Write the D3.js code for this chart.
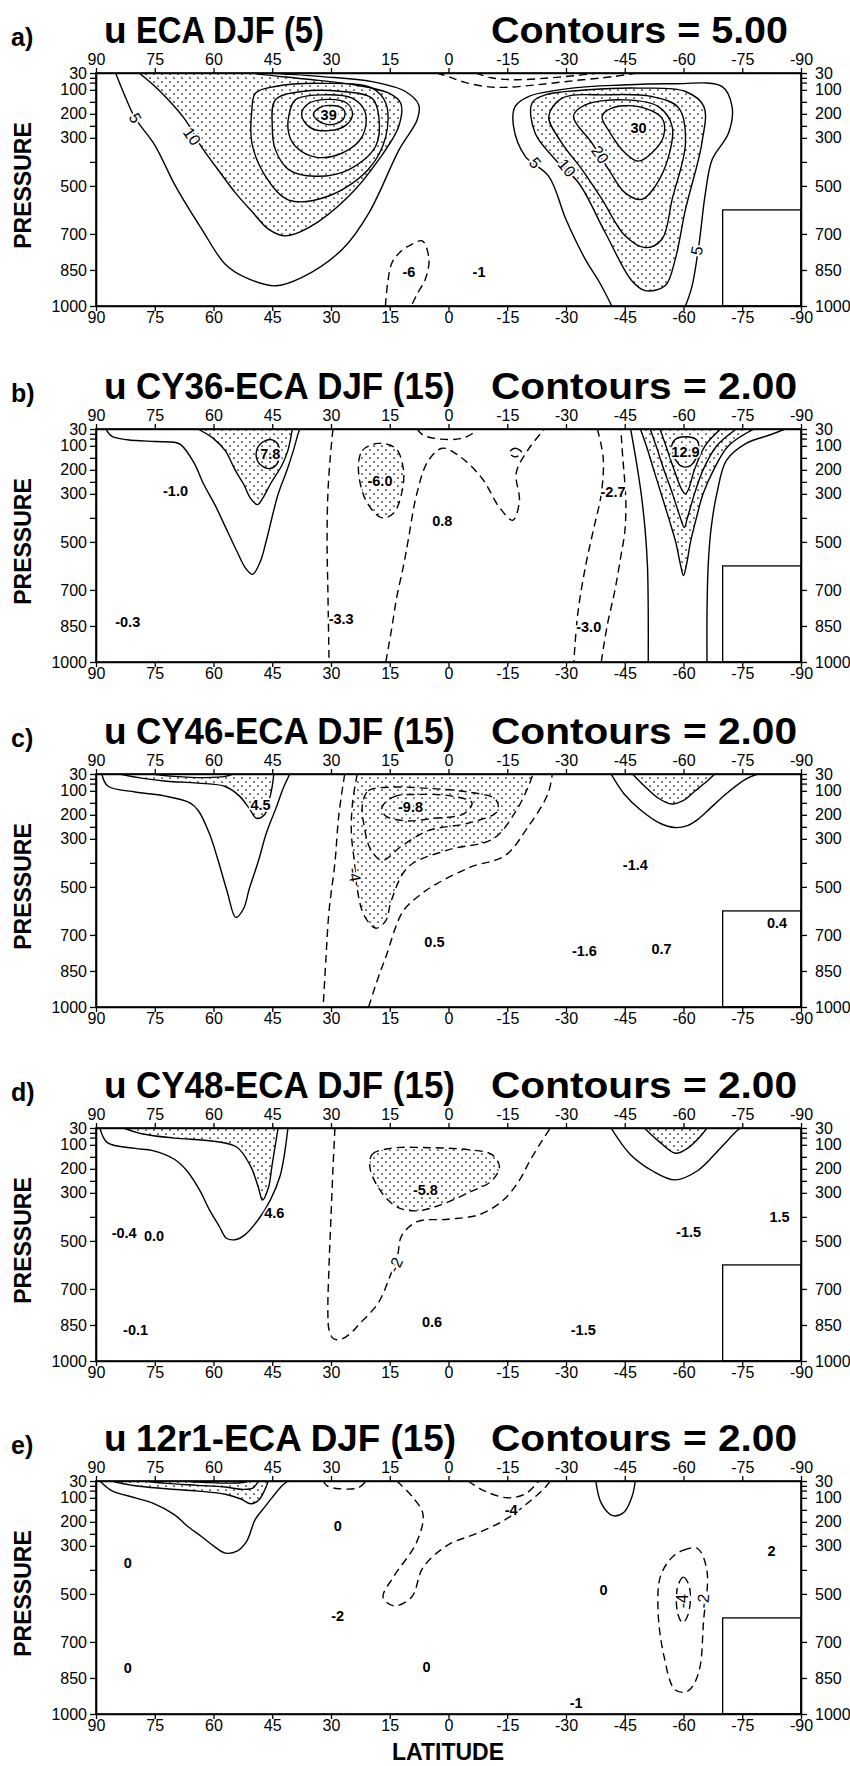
<!DOCTYPE html>
<html>
<head>
<meta charset="utf-8">
<script src="https://cdn.jsdelivr.net/npm/d3@7"></script>
<style>
  body { margin: 0; background: #fff; }
  svg text { font-family: "Liberation Sans", Arial, Helvetica, sans-serif; }
</style>
</head>
<body>
<svg id="chart" width="850" height="1766"></svg>
<script>
// ---- data ----
const latTicks = [90, 75, 60, 45, 30, 15, 0, -15, -30, -45, -60, -75, -90]
const presLevels = [30, 50, 70, 100, 150, 200, 250, 300, 400, 500, 700, 850, 1000]
const presLabels = [30, 100, 200, 300, 500, 700, 850, 1000]
const maskLat = [-70, -90]
const maskPres = [600, 1000]

const panelLetters = ['a)', 'b)', 'c)', 'd)', 'e)']
const panelTitles = ['ECA DJF (5)', 'CY36-ECA DJF (15)', 'CY46-ECA DJF (15)', 'CY48-ECA DJF (15)', '12r1-ECA DJF (15)']
const contourSteps = ['5.00', '2.00', '2.00', '2.00', '2.00']

// contours: v = contour value (negative dashed), pts = [latitude, pressure], stip = significant (stippled)
const contoursA = [
  { v: 5, pts: [[85, 30], [82.5, 130], [80, 218], [75, 330], [69.7, 501], [63, 680], [57, 826], [51.9, 881], [44.2, 916], [37.4, 881], [27.1, 764], [20.3, 612], [12.6, 349], [8, 225], [7.6, 163], [11, 107], [19.5, 66], [32.3, 45], [42, 34], [46, 30]] },
  { v: 10, stip: true, pts: [[79, 30], [75, 85], [71.5, 142], [67.2, 225], [62.9, 342], [58.5, 440], [54.4, 529], [50, 610], [45.9, 681], [41.6, 708], [35.7, 674], [25.4, 542], [17.8, 391], [12.7, 252], [12.2, 156], [15.2, 114], [23.7, 80], [36.5, 55], [46.7, 38], [50, 30]] },
  { v: 15, pts: [[50.2, 183], [49.3, 114], [44.2, 86], [32.3, 73], [19.5, 93], [16, 156], [16, 294], [20.5, 432], [30.6, 542], [40.8, 559], [46.7, 460], [50.2, 321]] },
  { v: 20, pts: [[45, 252], [44.2, 142], [37.4, 107], [27.1, 107], [19.5, 135], [17.8, 211], [18.6, 335], [25.4, 432], [34, 460], [40.8, 432], [44.2, 349]] },
  { v: 25, pts: [[40.8, 211], [39.1, 142], [32.3, 121], [24.6, 135], [21.2, 197], [22, 294], [27.1, 363], [34, 380], [39.1, 335], [40.8, 280]] },
  { v: 30, pts: [[37.5, 204], [36, 160], [31, 140], [26, 155], [24.5, 200], [26, 245], [30.5, 270], [35.5, 255]] },
  { v: 35, pts: [[34.5, 204], [33, 175], [30, 165], [27, 178], [26.5, 210], [28.5, 240], [32, 240]] },
  { v: 5, pts: [[-41.7, 1000], [-38.5, 900], [-34.9, 805], [-30, 640], [-25.6, 460], [-19.6, 377], [-16.6, 252], [-17, 170], [-20.4, 128], [-31.5, 93], [-44.3, 80], [-57.1, 75], [-69.8, 86], [-72.4, 170], [-71.5, 280], [-67.3, 391], [-65.6, 529], [-63.9, 750], [-62.2, 916], [-60.5, 1000]] },
  { v: 10, stip: true, pts: [[-21.3, 156], [-24.7, 121], [-35.8, 100], [-48.5, 93], [-60.5, 107], [-65.2, 170], [-64.7, 321], [-60.5, 598], [-57.9, 805], [-55.3, 916], [-50.2, 936], [-46.8, 895], [-40, 694], [-33.2, 487], [-27.3, 391], [-22.1, 280]] },
  { v: 15, pts: [[-25.6, 211], [-29, 135], [-40, 121], [-51.9, 128], [-58.8, 176], [-60.5, 321], [-57.1, 556], [-54.5, 722], [-50.2, 757], [-45.1, 708], [-39.2, 556], [-34.1, 432], [-28.9, 321]] },
  { v: 20, pts: [[-31.9, 211], [-34.9, 163], [-45.1, 142], [-53.6, 170], [-57.1, 252], [-56.2, 377], [-52.8, 501], [-49.4, 556], [-45.1, 529], [-40.9, 432], [-36.6, 321]] },
  { v: 25, pts: [[-39.2, 211], [-41.7, 176], [-48.5, 170], [-54.5, 218], [-54.9, 294], [-51.9, 363], [-48.5, 397], [-45.1, 363], [-41.3, 280]] },
  { v: -5, pts: [[3, 30], [0, 45], [-4, 68], [-9, 85], [-14, 90], [-22, 80], [-32, 62], [-42, 45], [-48, 30]] },
  { v: -10, pts: [[-7, 30], [-11, 50], [-17, 58], [-26, 50], [-34, 38], [-38, 30]] },
  { v: -5, pts: [[16.1, 1000], [15.5, 900], [14.4, 819], [12, 770], [10.1, 750], [6.7, 729], [5, 805], [5.9, 888], [8, 950], [9.5, 1000]] }
]
const labelsA = [
  [80, 218, '5', 62], [65.5, 294, '10', 55], [-22.1, 404, '5', 50], [-30.2, 425, '10', 50],
  [-38.7, 370, '20', 55], [-63.4, 770, '5', -80],
  [30.6, 204, '39'], [-48.5, 259, '30'], [10.1, 860, '-6'], [-7.8, 860, '-1']
]

const contoursB = [
  { v: 0, pts: [[87.5, 30], [86, 60], [82, 75], [75, 82], [69.7, 86], [68.3, 96], [65, 170], [62.5, 260], [59.5, 350], [56.7, 447], [54, 540], [51.7, 612], [50, 635], [48, 580], [46.5, 494], [43.6, 307], [41.2, 200], [39.6, 119], [38.4, 50], [38, 30]] },
  { v: 2, stip: true, pts: [[64, 30], [60, 70], [57, 120], [54.5, 200], [52.3, 260], [50.5, 320], [48.8, 345], [47.5, 320], [45.5, 260], [42.5, 180], [41, 119], [40.2, 60], [39.9, 30]] },
  { v: 4, pts: [[49, 120], [47.5, 85], [45, 75], [43.5, 95], [43.2, 140], [44, 180], [46, 195], [48.5, 170]] },
  { v: 0, pts: [[-46.5, 30], [-47.8, 150], [-49.2, 300], [-50.2, 450], [-50.8, 600], [-51, 800], [-51, 1000]] },
  { v: 0, pts: [[-86, 30], [-82, 55], [-76, 90], [-71, 160], [-68.5, 300], [-67, 450], [-66.3, 600], [-66, 800], [-66, 1000]] },
  { v: 2, stip: true, pts: [[-49, 30], [-50.5, 100], [-52.4, 200], [-54.3, 300], [-56.2, 400], [-58, 500], [-59.3, 600], [-60, 640], [-60.7, 600], [-61.8, 500], [-63.3, 400], [-65, 300], [-67.7, 200], [-71.5, 100], [-78, 30]] },
  { v: 4, pts: [[-51.5, 30], [-53, 100], [-55, 200], [-57.2, 300], [-59.2, 400], [-60.2, 440], [-61, 400], [-62.8, 300], [-65, 200], [-68.5, 100], [-73.5, 30]] },
  { v: 6, pts: [[-54, 30], [-55.5, 100], [-57.6, 200], [-59.5, 280], [-60.5, 300], [-61.3, 280], [-62.8, 200], [-65.5, 100], [-69.5, 30]] },
  { v: 8, pts: [[-57, 120], [-57.8, 75], [-60.5, 62], [-63.5, 78], [-63.8, 120], [-62, 180], [-59.5, 185]] },
  { v: -2, pts: [[29.5, 30], [30.2, 150], [30.8, 300], [31, 500], [30.8, 700], [30.5, 1000]] },
  { v: -2, pts: [[16, 1000], [14.5, 860], [13.2, 729], [11.5, 600], [10.3, 494], [8.2, 307], [5.3, 166], [1.6, 110], [-2.8, 143], [-8.6, 236], [-12.9, 354], [-16.4, 410], [-18.1, 330], [-17.3, 213], [-20.2, 119], [-24.5, 30]] },
  { v: -4, stip: true, pts: [[23, 200], [22, 120], [18, 90], [13.5, 110], [11.5, 200], [12, 300], [14, 380], [17, 400], [21, 330]] },
  { v: -2, pts: [[8, 30], [6.5, 55], [2, 72], [-3, 70], [-6, 50], [-7, 30]] },
  { v: -2, pts: [[-15.5, 128], [-17, 110], [-18.7, 128], [-17, 146]] },
  { v: -2, pts: [[-38, 30], [-39.5, 150], [-39, 300], [-37, 450], [-35, 600], [-33, 800], [-32, 1000]] },
  { v: -2, pts: [[-39, 1000], [-40.5, 850], [-42.5, 700], [-44, 560], [-45, 460], [-45.3, 350], [-45, 250], [-44.5, 150], [-44, 30]] }
]
const labelsB = [
  [69.7, 288, '-1.0'], [81.9, 832, '-0.3'], [45.5, 135, '7.8'], [17.5, 246, '-6.0'], [1.6, 415, '0.8'],
  [27.4, 823, '-3.3'], [-42, 293, '-2.7'], [-35.8, 855, '-3.0'], [-60.5, 125, '12.9']
]

const contoursC = [
  { v: 0, pts: [[88.5, 30], [87, 80], [80, 105], [72.6, 121], [66, 150], [63.9, 182], [61, 280], [59, 380], [56.5, 520], [54.3, 627], [52.3, 590], [50.9, 510], [48.5, 390], [46.5, 276], [44, 170], [42.2, 89], [40.5, 30]] },
  { v: 2, stip: true, pts: [[84, 30], [78, 48], [72, 60], [64, 68], [57, 82], [53.5, 120], [51, 170], [49, 215], [47, 200], [45.8, 140], [45, 80], [44.6, 30]] },
  { v: 4, pts: [[76, 30], [70, 40], [62, 45], [57, 40], [55, 30]] },
  { v: -2, pts: [[26.5, 30], [28, 200], [29, 400], [30.5, 600], [31.3, 800], [32, 1000]] },
  { v: -2, pts: [[20.4, 1000], [18, 880], [16, 792], [11.7, 604], [7, 530], [3, 487], [-5.7, 417], [-14.4, 370], [-20.2, 253], [-25.4, 112], [-26.5, 30]] },
  { v: -4, stip: true, pts: [[23.3, 30], [24.5, 150], [24.8, 276], [24, 400], [23.3, 510], [21.5, 620], [18.5, 672], [16, 640], [14.6, 557], [10.3, 417], [0.1, 346], [-11.5, 299], [-17.3, 182], [-20.2, 89], [-21.6, 30]] },
  { v: -6, pts: [[22, 160], [20.5, 100], [15, 85], [5, 90], [-5, 105], [-12, 135], [-12.5, 185], [-5, 235], [5, 265], [12, 330], [17, 390], [20, 340], [21.5, 250]] },
  { v: -8, pts: [[17, 170], [14, 125], [7, 115], [-1, 122], [-6, 150], [-4, 195], [4, 215], [11, 225], [16, 205]] },
  { v: 0, pts: [[-41.5, 30], [-44.8, 112], [-49.2, 182], [-54, 235], [-57.8, 253], [-61, 245], [-63.6, 220], [-67, 170], [-70.9, 112], [-76, 50], [-79, 30]] },
  { v: 2, stip: true, pts: [[-47, 30], [-50, 80], [-53.5, 130], [-57, 155], [-60, 140], [-63, 100], [-66, 60], [-68, 30]] }
]
const labelsC = [
  [48, 160, '4.5'], [9.7, 168, '-9.8'], [24, 450, '-4', 80], [-47.7, 408, '-1.4'], [-83.9, 651, '0.4'],
  [3.6, 731, '0.5'], [-34.7, 768, '-1.6'], [-54.4, 759, '0.7']
]

const contoursD = [
  { v: 0, pts: [[89, 30], [87.1, 91], [80, 115], [75.5, 124], [70, 160], [66.8, 208], [63.5, 290], [61, 372], [58.5, 440], [56.7, 489], [54.5, 495], [52, 475], [48.5, 410], [45.5, 330], [43, 230], [41.8, 130], [41, 30]] },
  { v: 2, stip: true, pts: [[83, 30], [78, 55], [70, 72], [60, 85], [54, 110], [50.5, 190], [48.5, 280], [47.5, 330], [46, 280], [45, 180], [44, 80], [43.5, 30]] },
  { v: -2, pts: [[29, 30], [29.5, 200], [30, 400], [30.5, 600], [30.8, 800], [30.5, 870], [29.5, 905], [27.7, 911], [25, 885], [23, 850], [18, 760], [15, 650], [13, 560], [12, 480], [8, 420], [0, 410], [-8, 390], [-14, 330], [-18, 250], [-21, 160], [-24, 80], [-26, 30]] },
  { v: -4, stip: true, pts: [[20, 200], [19.5, 140], [15, 115], [5, 112], [-5, 120], [-11, 140], [-13, 190], [-11, 250], [-5, 300], [2, 350], [8, 375], [13, 360], [17, 300]] },
  { v: 0, pts: [[-41.5, 30], [-46.3, 138], [-52, 208], [-57.8, 246], [-63.6, 208], [-69.4, 114], [-73.5, 44], [-74.5, 30]] },
  { v: 2, stip: true, pts: [[-50, 30], [-54, 90], [-58, 135], [-61, 115], [-64, 70], [-66, 30]] }
]
const labelsD = [
  [82.8, 466, '-0.4'], [75.2, 480, '0.0'], [79.9, 873, '-0.1'], [44.5, 382, '4.6'], [5.9, 290, '-5.8'],
  [13.5, 600, '-2', -65], [4.2, 836, '0.6'], [-34.4, 869, '-1.5'], [-61.3, 461, '-1.5'], [-84.5, 400, '1.5']
]

const contoursE = [
  { v: 0, pts: [[89, 30], [86, 70], [80, 100], [75.5, 122], [70, 170], [66.8, 216], [63, 262], [60, 300], [57, 330], [54, 322], [51.5, 280], [49.4, 192], [47, 140], [45, 98], [42.5, 50], [41, 30]] },
  { v: 2, stip: true, pts: [[86, 30], [80, 50], [72, 62], [64, 72], [57, 85], [53, 105], [50.5, 125], [48.5, 110], [47, 70], [46, 30]] },
  { v: 4, pts: [[78, 30], [72, 40], [64, 48], [57, 55], [52.5, 65], [50, 60], [48.5, 30]] },
  { v: 6, pts: [[68, 30], [62, 36], [56, 39], [52, 35], [51, 30]] },
  { v: -2, pts: [[32, 30], [31, 50], [28, 62], [23, 58], [21, 30]] },
  { v: -2, pts: [[13.2, 30], [9, 100], [6.5, 169], [8.2, 287], [14, 428], [16.7, 513], [14, 550], [9.4, 513], [6.5, 390], [0.1, 296], [-7.1, 249], [-14.4, 192], [-20.2, 122], [-24.5, 60], [-26, 30]] },
  { v: -4, pts: [[-5, 30], [-9, 70], [-15, 100], [-19.5, 85], [-22, 50], [-23, 30]] },
  { v: -2, pts: [[-57, 349], [-60, 318], [-63.6, 311], [-66, 405], [-65.1, 617], [-64.2, 805], [-62.5, 880], [-60.7, 908], [-57.8, 899], [-55, 758], [-53.5, 570], [-54.1, 428]] },
  { v: -4, pts: [[-58.5, 470], [-60, 430], [-61.5, 470], [-61.3, 580], [-59.8, 620], [-58.5, 580]] },
  { v: 0, pts: [[-37.6, 30], [-39, 122], [-41.9, 174], [-44.8, 160], [-46.8, 98], [-47.7, 30]] }
]
const labelsE = [
  [81.9, 371, '0'], [81.9, 809, '0'], [28.3, 593, '-2'], [28.3, 216, '0'], [5.6, 805, '0'],
  [-32.6, 955, '-1'], [-39.6, 484, '0'], [-82.5, 320, '2'], [-16, 150, '-4'],
  [-59.8, 530, '-4', -90], [-65, 530, '-2', -85]
]

const panelContours = [contoursA, contoursB, contoursC, contoursD, contoursE]
const panelLabels = [labelsA, labelsB, labelsC, labelsD, labelsE]

// ---- layout ----
const panelTops = [73, 429, 774, 1128, 1481]
const plotH = 233
const plotLeft = 96
const plotRight = 801
const titleWidths = [188, 319, 319, 319, 320]
const stepWidths = [297, 306, 306, 306, 306]
const FONT = '"Liberation Sans", Arial, Helvetica, sans-serif'

const svg = d3.select('#chart')
svg.append('rect').attr('width', 850).attr('height', 1766).attr('fill', '#fff')

const defs = svg.append('defs')
const pat = defs.append('pattern')
  .attr('id', 'dots')
  .attr('width', 8)
  .attr('height', 8)
  .attr('patternUnits', 'userSpaceOnUse')
pat.append('circle').attr('cx', 2).attr('cy', 2).attr('r', 0.85).attr('fill', '#000')
pat.append('circle').attr('cx', 6).attr('cy', 6).attr('r', 0.85).attr('fill', '#000')

const x = d3.scaleLinear().domain([90, -90]).range([plotLeft, plotRight])

const onEdge = d => d[1] <= 30 || d[1] >= 1000

panelContours.forEach((contours, i) => {
  const top = panelTops[i]
  const y = d3.scaleLinear().domain([30, 1000]).range([top, top + plotH])
  const g = svg.append('g')

  defs.append('clipPath').attr('id', 'clip' + i)
    .append('rect')
    .attr('x', plotLeft).attr('y', top)
    .attr('width', plotRight - plotLeft).attr('height', plotH)

  const lineFor = c => {
    const closed = !onEdge(c.pts[0])
    return d3.line()
      .x(d => x(d[0]))
      .y(d => y(d[1]))
      .curve(closed ? d3.curveCatmullRomClosed.alpha(0.5) : d3.curveCatmullRom.alpha(0.5))(c.pts)
  }

  const plot = g.append('g').attr('clip-path', `url(#clip${i})`)

  // stippled (significant) areas
  plot.selectAll('path.stip')
    .data(contours.filter(c => c.stip))
    .join('path')
    .attr('class', 'stip')
    .attr('d', c => lineFor(c) + (onEdge(c.pts[0]) ? 'Z' : ''))
    .attr('fill', 'url(#dots)')
    .attr('stroke', 'none')

  // contour lines
  plot.selectAll('path.cont')
    .data(contours)
    .join('path')
    .attr('class', 'cont')
    .attr('d', lineFor)
    .attr('fill', 'none')
    .attr('stroke', '#000')
    .attr('stroke-width', 1.4)
    .attr('stroke-linejoin', 'round')
    .attr('stroke-dasharray', c => c.v < 0 ? '8,5' : null)

  // masked (below ground) box
  g.append('rect')
    .attr('x', x(maskLat[0]))
    .attr('y', y(maskPres[0]))
    .attr('width', x(maskLat[1]) - x(maskLat[0]))
    .attr('height', y(maskPres[1]) - y(maskPres[0]))
    .attr('fill', '#fff')
    .attr('stroke', '#000')
    .attr('stroke-width', 1.3)

  // labels
  g.selectAll('text.lab')
    .data(panelLabels[i])
    .join('text')
    .attr('class', 'lab')
    .attr('transform', d => `translate(${x(d[0])},${y(d[1])})` + (d[3] !== undefined ? ` rotate(${d[3]})` : ''))
    .attr('text-anchor', 'middle')
    .attr('dominant-baseline', 'central')
    .attr('font-size', d => d[3] !== undefined ? 16 : 14.5)
    .attr('font-weight', d => d[3] !== undefined ? 'normal' : 'bold')
    .attr('stroke', '#fff')
    .attr('stroke-width', 3.5)
    .attr('paint-order', 'stroke')
    .attr('fill', '#000')
    .text(d => d[2])

  // frame
  g.append('rect')
    .attr('x', plotLeft).attr('y', top)
    .attr('width', plotRight - plotLeft).attr('height', plotH)
    .attr('fill', 'none').attr('stroke', '#000').attr('stroke-width', 1.6)

  // axes
  const latFmt = d => String(d)
  const presFmt = d => presLabels.includes(d) ? String(d) : ''
  const styleAxis = a => {
    a.attr('font-family', FONT).attr('font-size', 16)
    a.select('.domain').attr('stroke-width', 1.6)
    a.selectAll('.tick line').attr('stroke-width', 1.3)
    a.selectAll('.tick text').attr('fill', '#000')
  }
  g.append('g').attr('transform', `translate(0,${top})`)
    .call(d3.axisTop(x).tickValues(latTicks).tickFormat(latFmt).tickSize(5).tickSizeOuter(0))
    .call(styleAxis)
  g.append('g').attr('transform', `translate(0,${top + plotH})`)
    .call(d3.axisBottom(x).tickValues(latTicks).tickFormat(latFmt).tickSize(5).tickPadding(1).tickSizeOuter(0))
    .call(styleAxis)
  g.append('g').attr('transform', `translate(${plotLeft},0)`)
    .call(d3.axisLeft(y).tickValues(presLevels).tickFormat(presFmt).tickSize(6).tickPadding(3).tickSizeOuter(0))
    .call(styleAxis)
  g.append('g').attr('transform', `translate(${plotRight},0)`)
    .call(d3.axisRight(y).tickValues(presLevels).tickFormat(presFmt).tickSize(6).tickPadding(8).tickSizeOuter(0))
    .call(styleAxis)

  // titles
  g.append('text')
    .attr('x', 11).attr('y', top - 27)
    .attr('font-size', 25).attr('font-weight', 'bold')
    .text(panelLetters[i])
  g.append('text')
    .attr('x', 104).attr('y', top - 30)
    .attr('font-size', 37).attr('font-weight', 'bold')
    .text('u')
  g.append('text')
    .attr('x', 136).attr('y', top - 30)
    .attr('font-size', 37).attr('font-weight', 'bold')
    .attr('textLength', titleWidths[i])
    .attr('lengthAdjust', 'spacingAndGlyphs')
    .text(panelTitles[i])
  g.append('text')
    .attr('x', 491).attr('y', top - 30)
    .attr('font-size', 37).attr('font-weight', 'bold')
    .attr('textLength', stepWidths[i])
    .attr('lengthAdjust', 'spacingAndGlyphs')
    .text('Contours = ' + contourSteps[i])

  g.append('text')
    .attr('transform', `translate(23,${top + plotH / 2 - 4}) rotate(-90)`)
    .attr('text-anchor', 'middle')
    .attr('dominant-baseline', 'central')
    .attr('font-size', 23).attr('font-weight', 'bold')
    .text('PRESSURE')
})

svg.append('text')
  .attr('x', 448).attr('y', 1760)
  .attr('text-anchor', 'middle')
  .attr('font-size', 23).attr('font-weight', 'bold')
  .text('LATITUDE')
</script>
</body>
</html>
